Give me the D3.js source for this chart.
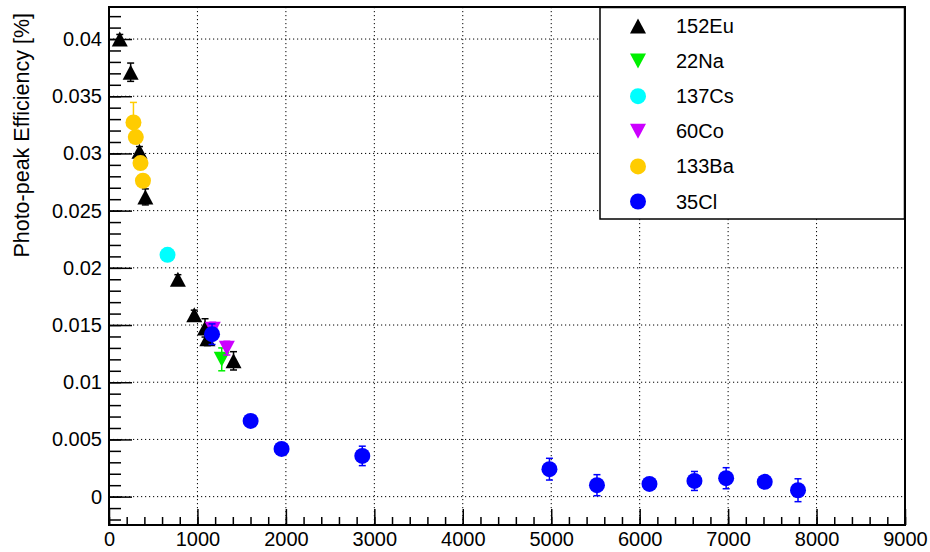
<!DOCTYPE html>
<html><head><meta charset="utf-8">
<script src="https://cdn.jsdelivr.net/npm/d3@7"></script>
<style>
body{margin:0;background:#fff}
svg{display:block}
text{font-family:"Liberation Sans",Helvetica,Arial,sans-serif;fill:#000}
</style>
</head><body>
<svg id="c" width="930" height="552"></svg>
<script>
// ---- data ----
const seriesNames  = ["152Eu","22Na","137Cs","60Co","133Ba","35Cl"];
const seriesColors = ["#000000","#00f000","#00ffff","#cc00ff","#ffcc00","#0000ff"];
const seriesShapes = ["up","down","circle","down","circle","circle"];

const eu152Energy = [121.8, 244.7, 344.3, 411.1, 778.9, 964.1, 1085.8, 1112.1, 1408.0];
const eu152Eff    = [0.0400, 0.0371, 0.0302, 0.0262, 0.0190, 0.0159, 0.01475, 0.0138, 0.01187];
const eu152Err    = [0.0004, 0.0008, 0.0004, 0.0007, 0.0004, 0.0004, 0.0008, 0.0006, 0.0008];

const na22Energy = [1274.5];
const na22Eff    = [0.0120];
const na22Err    = [0.0010];

const cs137Energy = [661.7];
const cs137Eff    = [0.02114];
const cs137Err    = [0.0004];

const co60Energy = [1173.2, 1332.5];
const co60Eff    = [0.01464, 0.01298];
const co60Err    = [0.0006, 0.0006];

const ba133Energy = [276.4, 302.9, 356.0, 383.8];
const ba133Eff    = [0.03271, 0.03143, 0.02916, 0.02761];
const ba133Err    = [0.00175, 0.0005, 0.0005, 0.0005];

const cl35Energy = [1164.9, 1601.1, 1951.1, 2863.8, 4979.9, 5517.2, 6110.9, 6619.6, 6977.8, 7414.0, 7790.3];
const cl35Eff    = [0.0142, 0.00662, 0.00417, 0.00356, 0.0024, 0.0010, 0.00111, 0.00137, 0.00161, 0.00129, 0.00056];
const cl35Err    = [0.0009, 0.0005, 0.0004, 0.00085, 0.00095, 0.00092, 0.0005, 0.00083, 0.00092, 0.0005, 0.0010];

const xTickValues = [0,1000,2000,3000,4000,5000,6000,7000,8000,9000];
const xTickLabels = ["0","1000","2000","3000","4000","5000","6000","7000","8000","9000"];
const yTickValues = [0,0.005,0.01,0.015,0.02,0.025,0.03,0.035,0.04];
const yTickLabels = ["0","0.005","0.01","0.015","0.02","0.025","0.03","0.035","0.04"];
const yTitle = "Photo-peak Efficiency [%]";

const xDomain = [0, 9000];
const yDomain = [-0.00248, 0.0428];

// ---- build ----
const seriesData = [
  [eu152Energy, eu152Eff, eu152Err],
  [na22Energy, na22Eff, na22Err],
  [cs137Energy, cs137Eff, cs137Err],
  [co60Energy, co60Eff, co60Err],
  [ba133Energy, ba133Eff, ba133Err],
  [cl35Energy, cl35Eff, cl35Err]
].map(([e, v, er], i) => ({
  name: seriesNames[i], color: seriesColors[i], shape: seriesShapes[i],
  pts: e.map((x, j) => ({x, y: v[j], err: er[j]}))
}));

const L = 109, R = 905, T = 7, B = 525;
const svg = d3.select("#c");
const x = d3.scaleLinear().domain(xDomain).range([L, R]);
const y = d3.scaleLinear().domain(yDomain).range([B, T]);

// grid
const grid = svg.append("g").attr("stroke", "#000").attr("stroke-width", 1).attr("stroke-dasharray", "1.2,2.8");
grid.selectAll(".gx").data(xTickValues.filter(v => v > xDomain[0] && v < xDomain[1])).enter()
  .append("line").attr("x1", d => x(d)).attr("x2", d => x(d)).attr("y1", T).attr("y2", B);
grid.selectAll(".gy").data(yTickValues).enter()
  .append("line").attr("x1", L).attr("x2", R).attr("y1", d => y(d)).attr("y2", d => y(d));

// axes: minor ticks
const xMinor = d3.range(0, 9001, 200);
const yMinor = d3.range(-2, 43, 1).map(v => v / 1000);
svg.append("g").attr("transform", `translate(0,${B})`)
  .call(d3.axisBottom(x).tickValues(xMinor).tickSize(-8).tickFormat(""))
  .call(g => g.select(".domain").remove())
  .selectAll("line").attr("stroke-width", 1.5);
svg.append("g").attr("transform", `translate(${L},0)`)
  .call(d3.axisLeft(y).tickValues(yMinor).tickSize(-12).tickFormat(""))
  .call(g => g.select(".domain").remove())
  .selectAll("line").attr("stroke-width", 1.5);

// axes: major ticks + labels
const xAx = svg.append("g").attr("transform", `translate(0,${B})`)
  .call(d3.axisBottom(x).tickValues(xTickValues).tickSize(-16).tickPadding(7)
    .tickFormat((d, i) => xTickLabels[i]));
xAx.select(".domain").remove();
xAx.selectAll("line").attr("stroke-width", 1.5);
xAx.selectAll("text").attr("font-size", 20).attr("font-family", '"Liberation Sans",Helvetica,Arial,sans-serif');

const yAx = svg.append("g").attr("transform", `translate(${L},0)`)
  .call(d3.axisLeft(y).tickValues(yTickValues).tickSize(-23).tickPadding(7)
    .tickFormat((d, i) => yTickLabels[i]));
yAx.select(".domain").remove();
yAx.selectAll("line").attr("stroke-width", 1.5);
yAx.selectAll("text").attr("font-size", 20).attr("font-family", '"Liberation Sans",Helvetica,Arial,sans-serif');

// frame
svg.append("rect").attr("x", L).attr("y", T).attr("width", R - L).attr("height", B - T)
  .attr("fill", "none").attr("stroke", "#000").attr("stroke-width", 2);

// y title
svg.append("text").attr("transform", "translate(29,13) rotate(-90)")
  .attr("text-anchor", "end").attr("font-size", 21.5).text(yTitle);

// markers
function markerPath(shape) {
  if (shape === "up") return "M0,-7.5L8,7.5L-8,7.5Z";
  if (shape === "down") return "M0,7.5L8,-7.5L-8,-7.5Z";
  return d3.symbol(d3.symbolCircle, Math.PI * 8 * 8)();
}

const pts = svg.append("g");
seriesData.forEach(s => {
  const g = pts.append("g");
  const eb = g.selectAll(".eb").data(s.pts).enter().append("g")
    .attr("stroke", s.color).attr("stroke-width", 1.5);
  eb.append("line").attr("x1", d => x(d.x)).attr("x2", d => x(d.x))
    .attr("y1", d => y(d.y + d.err)).attr("y2", d => y(d.y - d.err));
  eb.append("line").attr("x1", d => x(d.x) - 3.5).attr("x2", d => x(d.x) + 3.5)
    .attr("y1", d => y(d.y + d.err)).attr("y2", d => y(d.y + d.err));
  eb.append("line").attr("x1", d => x(d.x) - 3.5).attr("x2", d => x(d.x) + 3.5)
    .attr("y1", d => y(d.y - d.err)).attr("y2", d => y(d.y - d.err));
  g.selectAll(".m").data(s.pts).enter().append("path")
    .attr("d", markerPath(s.shape)).attr("fill", s.color)
    .attr("transform", d => `translate(${x(d.x)},${y(d.y)})`);
});

// legend
const lg = svg.append("g");
lg.append("rect").attr("x", 600).attr("y", 7.5).attr("width", 304.5).attr("height", 211.5)
  .attr("fill", "#fff").attr("stroke", "#000").attr("stroke-width", 1.5);
seriesData.forEach((s, i) => {
  const cy = 26 + i * 35.1;
  lg.append("path").attr("d", markerPath(s.shape)).attr("fill", s.color)
    .attr("transform", `translate(638,${cy})`);
  lg.append("text").attr("x", 676).attr("y", cy + 7).attr("font-size", 20).text(s.name);
});
</script>
</body></html>
